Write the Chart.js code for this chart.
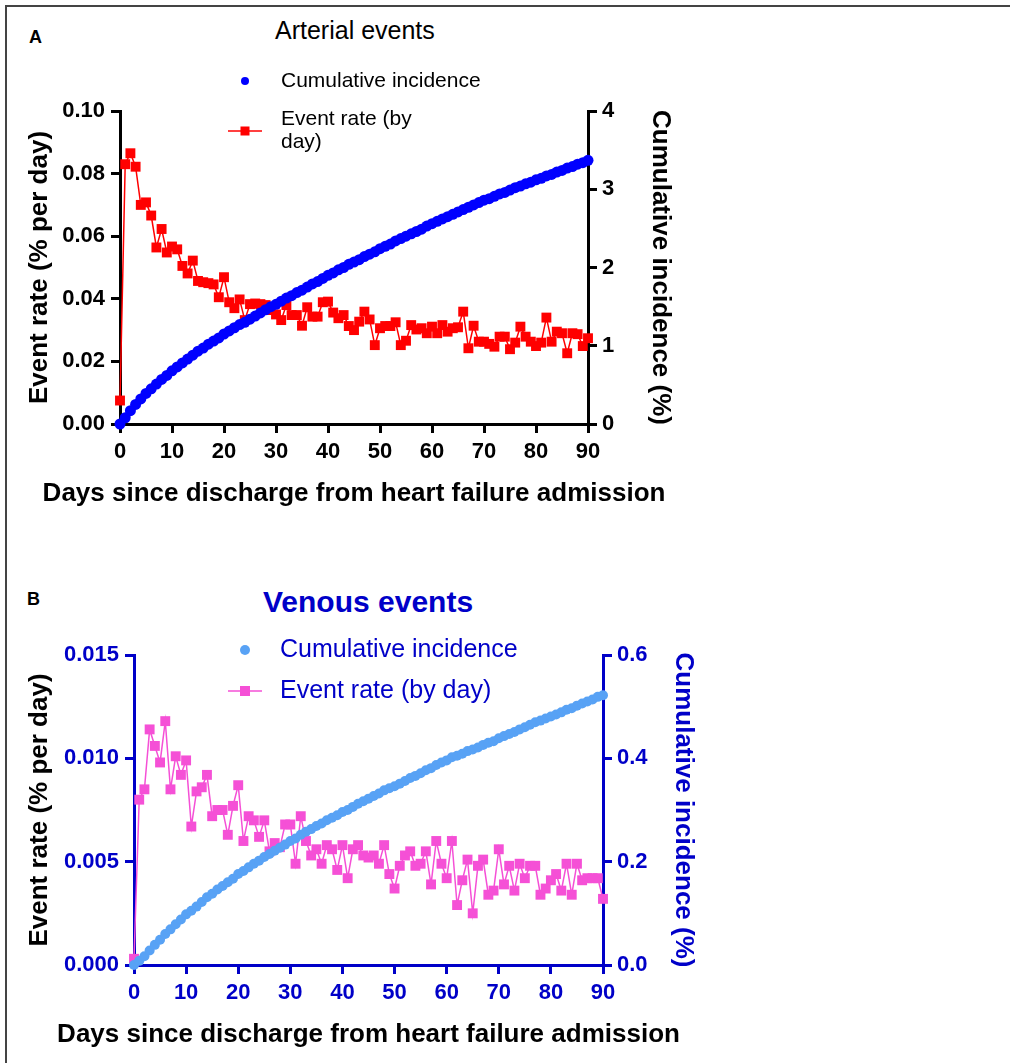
<!DOCTYPE html>
<html>
<head>
<meta charset="utf-8">
<script src="https://cdn.jsdelivr.net/npm/chart.js@4"></script>
<style>
  body { margin: 0; width: 1010px; height: 1063px; overflow: hidden; background: #fff; font-family: 'Liberation Sans', Arial, sans-serif; }
  .frame { position: absolute; left: 5px; top: 5px; width: 1100px; height: 1100px; border: 2px solid #444; }
  canvas { position: absolute; left: 0; }
  #chartA { top: 0; }
  #chartB { top: 540px; }
  .txt { position: absolute; white-space: nowrap; }
  .panel { font-weight: bold; font-size: 18px; }
</style>
</head>
<body>
<div class="frame"></div>
<div class="txt panel" style="left:29px; top:27px;">A</div>
<div class="txt panel" style="left:27px; top:589px;">B</div>
<div class="txt" style="left:275px; top:16px; font-size:25px;">Arterial events</div>
<div class="txt" style="left:263px; top:585px; font-size:30px; font-weight:bold; color:#0000c8;">Venous events</div>
<canvas id="chartA" width="760" height="540"></canvas>
<canvas id="chartB" width="760" height="523"></canvas>
<script>
// Days since discharge (x categories)
const days = [0, 1, 2, 3, 4, 5, 6, 7, 8, 9, 10, 11, 12, 13, 14, 15, 16, 17, 18, 19, 20,
    21, 22, 23, 24, 25, 26, 27, 28, 29, 30, 31, 32, 33, 34, 35, 36, 37, 38, 39, 40,
    41, 42, 43, 44, 45, 46, 47, 48, 49, 50, 51, 52, 53, 54, 55, 56, 57, 58, 59, 60,
    61, 62, 63, 64, 65, 66, 67, 68, 69, 70, 71, 72, 73, 74, 75, 76, 77, 78, 79, 80,
    81, 82, 83, 84, 85, 86, 87, 88, 89, 90];

// Arterial events
const arterialRate = [0.0075, 0.0830, 0.0865, 0.0822, 0.0700, 0.0708, 0.0666, 0.0564, 0.0623, 0.0548, 0.0567,
    0.0558, 0.0505, 0.0481, 0.0522, 0.0457, 0.0453, 0.0450, 0.0446, 0.0405, 0.0469,
    0.0389, 0.0370, 0.0398, 0.0332, 0.0383, 0.0385, 0.0383, 0.0380, 0.0364, 0.0350,
    0.0332, 0.0380, 0.0348, 0.0348, 0.0314, 0.0373, 0.0343, 0.0343, 0.0389, 0.0391,
    0.0356, 0.0338, 0.0348, 0.0313, 0.0300, 0.0327, 0.0359, 0.0334, 0.0252, 0.0306,
    0.0313, 0.0313, 0.0325, 0.0252, 0.0266, 0.0316, 0.0302, 0.0306, 0.0290, 0.0311,
    0.0290, 0.0316, 0.0295, 0.0306, 0.0309, 0.0359, 0.0242, 0.0314, 0.0263, 0.0263,
    0.0256, 0.0247, 0.0279, 0.0279, 0.0239, 0.0260, 0.0311, 0.0279, 0.0263, 0.0249,
    0.0260, 0.0340, 0.0263, 0.0295, 0.0290, 0.0226, 0.0290, 0.0287, 0.0249, 0.0274];
const arterialCum = [0.00, 0.08, 0.17, 0.25, 0.32, 0.39, 0.45, 0.51, 0.57, 0.62, 0.68,
    0.73, 0.78, 0.83, 0.88, 0.93, 0.97, 1.02, 1.06, 1.10, 1.15,
    1.19, 1.23, 1.27, 1.30, 1.34, 1.38, 1.42, 1.46, 1.50, 1.53,
    1.57, 1.61, 1.64, 1.68, 1.71, 1.75, 1.79, 1.82, 1.86, 1.90,
    1.93, 1.97, 2.00, 2.04, 2.07, 2.10, 2.14, 2.17, 2.20, 2.24,
    2.27, 2.30, 2.34, 2.37, 2.40, 2.43, 2.46, 2.49, 2.53, 2.56,
    2.59, 2.62, 2.65, 2.68, 2.71, 2.74, 2.77, 2.80, 2.83, 2.86,
    2.88, 2.91, 2.94, 2.96, 2.99, 3.02, 3.04, 3.07, 3.09, 3.12,
    3.14, 3.17, 3.19, 3.22, 3.24, 3.27, 3.29, 3.32, 3.34, 3.37];

// Venous events
const venousRate = [0.0003, 0.0080, 0.0085, 0.0114, 0.0106, 0.0098, 0.0118, 0.0085, 0.0101, 0.0092, 0.0099,
    0.0067, 0.0084, 0.0086, 0.0092, 0.0072, 0.0075, 0.0075, 0.0063, 0.0077, 0.0087,
    0.0060, 0.0072, 0.0070, 0.0062, 0.0070, 0.0055, 0.0059, 0.0057, 0.0068, 0.0068,
    0.0049, 0.0072, 0.0060, 0.0053, 0.0056, 0.0049, 0.0058, 0.0056, 0.0046, 0.0058,
    0.0042, 0.0056, 0.0058, 0.0053, 0.0052, 0.0053, 0.0049, 0.0058, 0.0044, 0.0037,
    0.0048, 0.0053, 0.0055, 0.0048, 0.0049, 0.0055, 0.0039, 0.0060, 0.0049, 0.0042,
    0.0060, 0.0029, 0.0041, 0.0051, 0.0025, 0.0048, 0.0051, 0.0034, 0.0036, 0.0056,
    0.0039, 0.0048, 0.0036, 0.0049, 0.0042, 0.0048, 0.0048, 0.0034, 0.0037, 0.0041,
    0.0044, 0.0036, 0.0049, 0.0034, 0.0049, 0.0041, 0.0042, 0.0042, 0.0042, 0.0032];
const venousCum = [0.000, 0.008, 0.017, 0.028, 0.039, 0.049, 0.060, 0.069, 0.079, 0.088, 0.098,
    0.105, 0.113, 0.122, 0.131, 0.138, 0.146, 0.153, 0.160, 0.167, 0.176,
    0.182, 0.189, 0.196, 0.202, 0.209, 0.215, 0.221, 0.227, 0.233, 0.240,
    0.245, 0.252, 0.258, 0.263, 0.269, 0.274, 0.280, 0.285, 0.290, 0.296,
    0.300, 0.306, 0.312, 0.317, 0.322, 0.327, 0.332, 0.338, 0.342, 0.346,
    0.351, 0.356, 0.362, 0.366, 0.371, 0.377, 0.381, 0.387, 0.392, 0.396,
    0.402, 0.405, 0.409, 0.414, 0.417, 0.421, 0.426, 0.430, 0.433, 0.439,
    0.443, 0.447, 0.451, 0.456, 0.460, 0.465, 0.470, 0.473, 0.477, 0.481,
    0.485, 0.489, 0.494, 0.497, 0.502, 0.506, 0.510, 0.514, 0.519, 0.522];

// Tick labels
const dayTicks = ['0', '10', '20', '30', '40', '50', '60', '70', '80', '90'];
const arterialRateTicks = ['0.00', '0.02', '0.04', '0.06', '0.08', '0.10'];
const arterialCumTicks = ['0', '1', '2', '3', '4'];
const venousRateTicks = ['0.000', '0.005', '0.010', '0.015'];
const venousCumTicks = ['0.0', '0.2', '0.4', '0.6'];

const FONT = "'Liberation Sans', Arial, sans-serif";
const X_TITLE = 'Days since discharge from heart failure admission';

// Legend and x-axis title drawn on the canvas (Chart.js would squeeze the
// long x title into the plot width)
const sideLegend = {
    id: 'sideLegend',
    afterDraw(chart, args, opts) {
        const ctx = chart.ctx;
        const area = chart.chartArea;
        ctx.save();

        // x title
        ctx.font = 'bold 26px ' + FONT;
        ctx.fillStyle = '#000';
        ctx.textAlign = 'center';
        ctx.textBaseline = 'middle';
        ctx.fillText(X_TITLE, (area.left + area.right) / 2, opts.xTitleY);

        ctx.textAlign = 'left';
        ctx.font = opts.fontSize + 'px ' + FONT;
        chart.data.datasets.forEach((ds, i) => {
            const y = opts.rows[i];
            // wrap label
            const words = ds.label.split(' ');
            const lines = [];
            let line = '';
            words.forEach(w => {
                const test = line ? line + ' ' + w : w;
                if (line && ctx.measureText(test).width > opts.maxWidth[i]) {
                    lines.push(line);
                    line = w;
                } else {
                    line = test;
                }
            });
            lines.push(line);
            const y0 = y - (lines.length - 1) * opts.lineHeight / 2;
            ctx.fillStyle = opts.color;
            lines.forEach((ln, k) => ctx.fillText(ln, opts.textX, y0 + k * opts.lineHeight));

            const c = ds.pointBackgroundColor;
            ctx.fillStyle = c;
            ctx.strokeStyle = c;
            if (ds.showLine !== false) {
                ctx.lineWidth = 1.5;
                ctx.beginPath();
                ctx.moveTo(opts.markerX - 17, y);
                ctx.lineTo(opts.markerX + 17, y);
                ctx.stroke();
            }
            if (ds.pointStyle === 'rect') {
                const s = opts.squareSize;
                ctx.fillRect(opts.markerX - s / 2, y - s / 2, s, s);
            } else {
                ctx.beginPath();
                ctx.arc(opts.markerX, y, opts.dotRadius, 0, Math.PI * 2);
                ctx.fill();
            }
        });
        ctx.restore();
    }
};

function axis(opts) {
    return {
        type: 'linear',
        position: opts.position,
        min: opts.min,
        max: opts.max,
        afterFit: scale => {
            if (opts.width) scale.width = opts.width;
            if (opts.height) scale.height = opts.height;
        },
        border: { display: true, width: 3, color: opts.color },
        grid: { display: true, drawOnChartArea: false, drawTicks: true, tickLength: 9, lineWidth: 3, color: opts.color },
        ticks: {
            stepSize: opts.step,
            autoSkip: false,
            maxRotation: 0,
            padding: opts.tickPad,
            color: opts.color,
            font: { family: FONT, size: 22, weight: 'bold' },
            callback: (v, i) => opts.labels[i]
        },
        title: {
            display: !!opts.title,
            text: opts.title || '',
            color: opts.titleColor,
            padding: opts.titlePad,
            font: { family: FONT, size: 26, weight: 'bold' }
        }
    };
}

function makeChart(id, cfg) {
    return new Chart(document.getElementById(id), {
        type: 'line',
        data: {
            labels: days,
            datasets: [{
                label: 'Cumulative incidence',
                data: cfg.cum,
                yAxisID: 'y1',
                showLine: false,
                pointStyle: 'circle',
                pointRadius: cfg.dotRadius,
                pointBorderWidth: 0,
                pointBackgroundColor: cfg.cumColor,
                borderColor: cfg.cumColor,
                clip: false
            }, {
                label: 'Event rate (by day)',
                data: cfg.rate,
                yAxisID: 'y',
                pointStyle: 'rect',
                pointRadius: 7,
                pointBorderWidth: 0,
                pointBackgroundColor: cfg.rateColor,
                borderColor: cfg.rateColor,
                borderWidth: 1.5,
                tension: 0,
                clip: false
            }]
        },
        options: {
            responsive: false,
            animation: false,
            devicePixelRatio: 1,
            layout: { padding: cfg.padding },
            plugins: {
                legend: { display: false },
                tooltip: { enabled: false },
                sideLegend: cfg.legend
            },
            scales: {
                x: axis({
                    position: 'bottom', min: 0, max: 90, step: 10, labels: dayTicks,
                    color: cfg.axisColor, height: cfg.xHeight, tickPad: 6
                }),
                y: axis({
                    position: 'left', min: 0, max: cfg.rateMax, step: cfg.rateStep, labels: cfg.rateTicks,
                    color: cfg.axisColor, width: cfg.leftWidth, tickPad: 6,
                    title: 'Event rate (% per day)',
                    titleColor: '#000', titlePad: { top: 24, bottom: 0 }
                }),
                y1: axis({
                    position: 'right', min: 0, max: cfg.cumMax, step: cfg.cumStep, labels: cfg.cumTicks,
                    color: cfg.axisColor, width: 100, tickPad: 5,
                    title: 'Cumulative incidence (%)',
                    titleColor: cfg.axisColor, titlePad: { top: cfg.rightTitlePad, bottom: 0 }
                })
            }
        },
        plugins: [sideLegend]
    });
}

// Panel A
const chartA = makeChart('chartA', {
    rate: arterialRate, cum: arterialCum,
    rateColor: '#ff0000', cumColor: '#0000ff', axisColor: '#000000',
    dotRadius: 5.5,
    rateMax: 0.1, rateStep: 0.02, rateTicks: arterialRateTicks,
    cumMax: 4, cumStep: 1, cumTicks: arterialCumTicks,
    padding: { top: 111, left: 0, right: 72, bottom: 16 },
    leftWidth: 120, xHeight: 100, rightTitlePad: 12,
    legend: { fontSize: 21, color: '#000', textX: 281, markerX: 245, rows: [81, 131],
        maxWidth: [400, 150], lineHeight: 23, dotRadius: 4, squareSize: 9, xTitleY: 494 }
});

// Panel B
const chartB = makeChart('chartB', {
    rate: venousRate, cum: venousCum,
    rateColor: '#f550d6', cumColor: '#58a2f5', axisColor: '#0000c8',
    dotRadius: 5,
    rateMax: 0.015, rateStep: 0.005, rateTicks: venousRateTicks,
    cumMax: 0.6, cumStep: 0.2, cumTicks: venousCumTicks,
    padding: { top: 115, left: 0, right: 57, bottom: 3 },
    leftWidth: 134, xHeight: 95, rightTitlePad: 4,
    legend: { fontSize: 25, color: '#0000c8', textX: 280, markerX: 245, rows: [110, 151],
        maxWidth: [400, 400], lineHeight: 28, dotRadius: 5, squareSize: 10, xTitleY: 495 }
});
</script>
</body>
</html>
